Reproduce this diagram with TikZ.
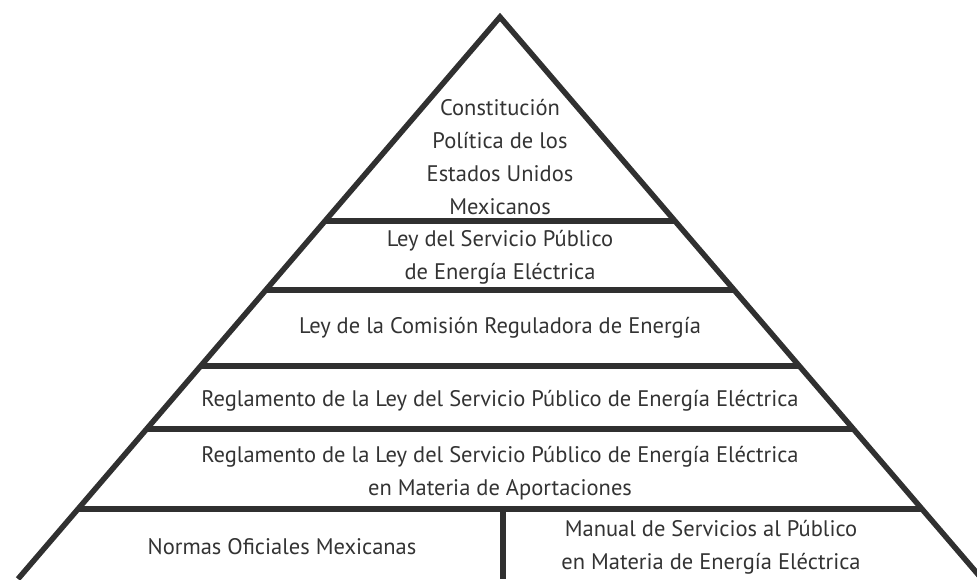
\documentclass[tikz,border=0pt]{standalone}
\usepackage{fontspec}
\setmainfont{PT Sans}
\usetikzlibrary{calc}
\definecolor{inkgray}{HTML}{303030}
\definecolor{textgray}{HTML}{333333}

\begin{document}
\begin{tikzpicture}[x=1pt, y=1pt,
  edge/.style={draw=inkgray, line width=5.5pt},
  tier/.style={align=center, text=textgray, inner sep=0pt, font=\fontsize{22.5}{33}\selectfont}]
  \useasboundingbox (0,0) rectangle (977,579);
  \clip (0,0) rectangle (977,579);
  \coordinate (apex) at (500,562);
  \coordinate (bl) at (18,0);
  \coordinate (br) at (982,0);
  \coordinate (split) at (503,0);

  % sides and levels
  \draw[edge, miter limit=20] (bl) -- (apex) -- (br);
  \foreach \t [count=\i] in {0.363,0.486,0.621,0.733,0.875}{
    \coordinate (left\i) at ($(apex)!\t!(bl)$);
    \coordinate (right\i) at ($(apex)!\t!(br)$);
    \draw[edge] (left\i) -- (right\i);
  }
  \draw[edge] (split |- left5) -- (split);

  \node[tier] (constitucion) at (500,422) {Constitución\\Política de los\\Estados Unidos\\Mexicanos};
  \node[tier] (lsppe) at (500,322) {Ley del Servicio Público\\de Energía Eléctrica};
  \node[tier] (lcre) at (500,251) {Ley de la Comisión Reguladora de Energía};
  \node[tier] (reglamento) at (500,178) {Reglamento de la Ley del Servicio Público de Energía Eléctrica};
  \node[tier] (aportaciones) at (500,106) {Reglamento de la Ley del Servicio Público de Energía Eléctrica\\en Materia de Aportaciones};
  \node[tier] (nom) at (282,32) {Normas Oficiales Mexicanas};
  \node[tier] (manual) at (711,32) {Manual de Servicios al Público\\en Materia de Energía Eléctrica};
\end{tikzpicture}
\end{document}
